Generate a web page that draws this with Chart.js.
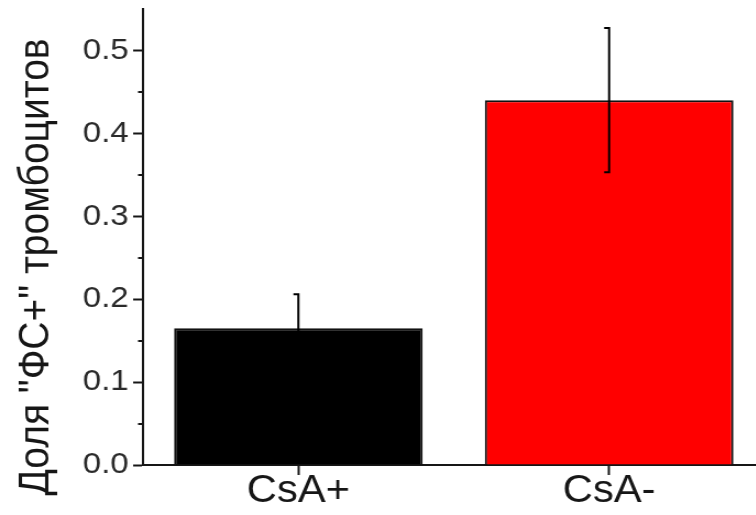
<!DOCTYPE html>
<html>
<head>
<meta charset="utf-8">
<script src="https://cdn.jsdelivr.net/npm/chart.js@4.4.1/dist/chart.umd.min.js"></script>
<style>
  html, body { margin: 0; padding: 0; background: #fff; overflow: hidden; width: 756px; height: 515px; }
  #wrap { width: 700px; height: 515px; transform: scaleX(1.1); transform-origin: 0 0; }
</style>
</head>
<body>
<div id="wrap"><canvas id="c" width="700" height="515"></canvas></div>
<script>
// Share of PS-positive platelets with and without cyclosporin A
const categories = ['CsA+', 'CsA-'];
const shareValues = [0.165, 0.44];
const shareErrors = [0.041, 0.087];
const barColors = ['#000000', '#ff0000'];
const yMin = 0;
const yMax = 0.55;
const yMajorStep = 0.1;
const yMinorTicks = [0.05, 0.15, 0.25, 0.35, 0.45];
const yTitle = 'Доля "ФС+" тромбоцитов';

const FONT = "'Liberation Sans', Arial, sans-serif";
const INK = '#161616';

// Error bars: vertical whisker with a short left-hand cap at each end
const errorBars = {
  id: 'errorBars',
  afterDatasetsDraw(chart) {
    const { ctx, scales: { x, y } } = chart;
    ctx.save();
    ctx.strokeStyle = '#000000';
    ctx.lineWidth = 2;
    shareValues.forEach((v, i) => {
      const px = x.getPixelForValue(i);
      const top = y.getPixelForValue(v + shareErrors[i]);
      const bot = y.getPixelForValue(v - shareErrors[i]);
      ctx.beginPath();
      ctx.moveTo(px - 4.5, top);
      ctx.lineTo(px, top);
      ctx.lineTo(px, bot);
      ctx.lineTo(px - 4.5, bot);
      ctx.stroke();
    });
    ctx.restore();
  }
};

// Short minor ticks between the labelled ones, plus the rotated axis title
const axisExtras = {
  id: 'axisExtras',
  afterDraw(chart) {
    const { ctx, scales: { y }, chartArea } = chart;
    ctx.save();
    ctx.strokeStyle = INK;
    ctx.lineWidth = 2;
    yMinorTicks.forEach(v => {
      const py = Math.round(y.getPixelForValue(v));
      ctx.beginPath();
      ctx.moveTo(chartArea.left - 4.5, py);
      ctx.lineTo(chartArea.left, py);
      ctx.stroke();
    });
    ctx.translate(44, 267);
    ctx.rotate(-Math.PI / 2);
    ctx.fillStyle = INK;
    ctx.font = '39px ' + FONT;
    ctx.textAlign = 'center';
    ctx.textBaseline = 'alphabetic';
    ctx.fillText(yTitle, 0, 0);
    ctx.restore();
  }
};

new Chart(document.getElementById('c'), {
  type: 'bar',
  data: {
    labels: categories,
    datasets: [{
      data: shareValues,
      backgroundColor: barColors,
      borderColor: '#111111',
      borderWidth: 2,
      borderSkipped: 'bottom',
      categoryPercentage: 1.0,
      barPercentage: 0.8
    }]
  },
  options: {
    responsive: false,
    animation: false,
    devicePixelRatio: 1,
    layout: { padding: { left: 0, right: 5, top: 9, bottom: 0 } },
    plugins: { legend: { display: false }, tooltip: { enabled: false }, title: { display: false } },
    scales: {
      x: {
        grid: { display: true, offset: false, drawOnChartArea: false, tickLength: 10, tickWidth: 2, tickColor: INK },
        border: { display: true, color: INK, width: 2 },
        ticks: { color: INK, font: { family: FONT, size: 38 }, padding: -6, maxRotation: 0 },
        afterFit(scale) { scale.height = 50; scale.paddingLeft = 0; scale.paddingRight = 0; }
      },
      y: {
        min: yMin,
        max: yMax,
        grid: { drawOnChartArea: false, tickLength: 9, tickWidth: 2, tickColor: INK },
        border: { display: true, color: INK, width: 2 },
        ticks: {
          stepSize: yMajorStep,
          includeBounds: false,
          color: '#2a2a2a',
          padding: 4,
          font: { family: FONT, size: 30 },
          callback: v => v.toFixed(1)
        },
        afterFit(scale) { scale.width = 130; scale.paddingTop = 0; scale.paddingBottom = 0; }
      }
    }
  },
  plugins: [errorBars, axisExtras]
});
</script>
</body>
</html>
